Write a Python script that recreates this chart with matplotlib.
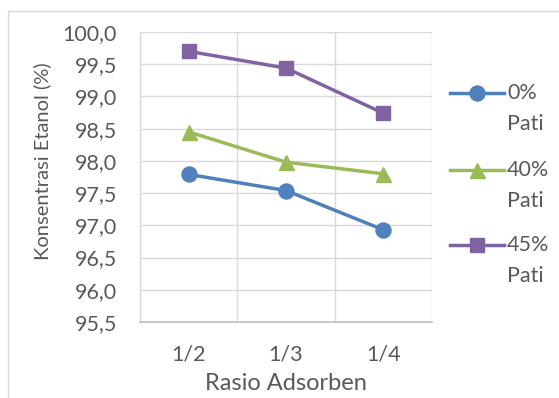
import matplotlib
matplotlib.use("Agg")
import matplotlib.pyplot as plt
from matplotlib.lines import Line2D
from matplotlib.patches import Rectangle

categories = ["1/2", "1/3", "1/4"]
series_names = ["0%\nPati", "40%\nPati", "45%\nPati"]
pati_0 = [97.79, 97.54, 96.93]
pati_40 = [98.45, 97.98, 97.80]
pati_45 = [99.70, 99.44, 98.74]
yticks = [95.5, 96.0, 96.5, 97.0, 97.5, 98.0, 98.5, 99.0, 99.5, 100.0]

plt.rcParams['font.family'] = ['Lato', 'DejaVu Sans']
W, H = 559, 398
fig = plt.figure(figsize=(W / 100, H / 100), dpi=100)

# outer chart frame (cropped)
fig.add_artist(Rectangle((8 / W, -0.1), 1.2, 1.1 - 11 / H, transform=fig.transFigure,
                         fill=False, edgecolor="#d9d9d9", linewidth=1.0))

L, T, R, B = 140, 32, 432, 322
ax = fig.add_axes([L / W, 1 - B / H, (R - L) / W, (B - T) / H])

colors = ["#4F81BD", "#9BBB59", "#8064A2"]
markers = ["o", "^", "s"]
msizes = [10.8, 10.8, 10.3]
series = [pati_0, pati_40, pati_45]
x = list(range(len(categories)))
for vals, c, m, ms in zip(series, colors, markers, msizes):
    ax.plot(x, vals, color=c, marker=m, markersize=ms, linewidth=2.5,
            markeredgecolor=c, zorder=3)

ax.set_xlim(-0.5, len(categories) - 0.5)
ax.set_ylim(95.5, 100.0)
ax.set_yticks(yticks)
ax.set_yticklabels([f"{v:.1f}".replace(".", ",") for v in yticks])
ax.set_xticks(x)
ax.set_xticklabels(categories)
ax.set_xticks([-0.5, 0.5, 1.5, 2.5], minor=True)
ax.grid(True, axis="y", color="#d9d9d9", linewidth=1.0)
ax.grid(True, axis="x", which="minor", color="#d9d9d9", linewidth=1.0)
ax.tick_params(axis="both", which="both", length=0, labelsize=15.5, colors="#595959")
ax.tick_params(axis="y", pad=16.5)
ax.tick_params(axis="x", pad=16)
for s in ["top", "right"]:
    ax.spines[s].set_visible(False)
ax.spines["left"].set_color("#d9d9d9")
ax.spines["bottom"].set_color("#bfbfbf")
ax.spines["left"].set_linewidth(1.0)
ax.spines["bottom"].set_linewidth(1.2)
ax.set_axisbelow(True)

fig.text(42 / W, 1 - 161 / H, "Konsentrasi Etanol (%)", rotation=90, ha="center",
         va="center", fontsize=14.5, color="#595959")
fig.text(286 / W, 1 - 384 / H, "Rasio Adsorben", ha="center", va="center",
         fontsize=17, color="#595959")

# legend
leg_y = [93, 170, 245]
for name, c, m, ms, y in zip(series_names, colors, markers, msizes, leg_y):
    fig.add_artist(Line2D([450 / W, 504 / W], [1 - y / H] * 2, transform=fig.transFigure,
                          color=c, linewidth=2.5))
    fig.add_artist(Line2D([477 / W], [1 - y / H], transform=fig.transFigure, color=c,
                          marker=m, markersize=ms, markeredgecolor=c))
    first, second = name.split("\n")
    fig.text(507 / W, 1 - y / H, first, ha="left", va="center", fontsize=15.5, color="#595959")
    fig.text(507 / W, 1 - (y + 31) / H, second, ha="left", va="center", fontsize=15.5,
             color="#595959")

fig.savefig("out.png", dpi=100)
